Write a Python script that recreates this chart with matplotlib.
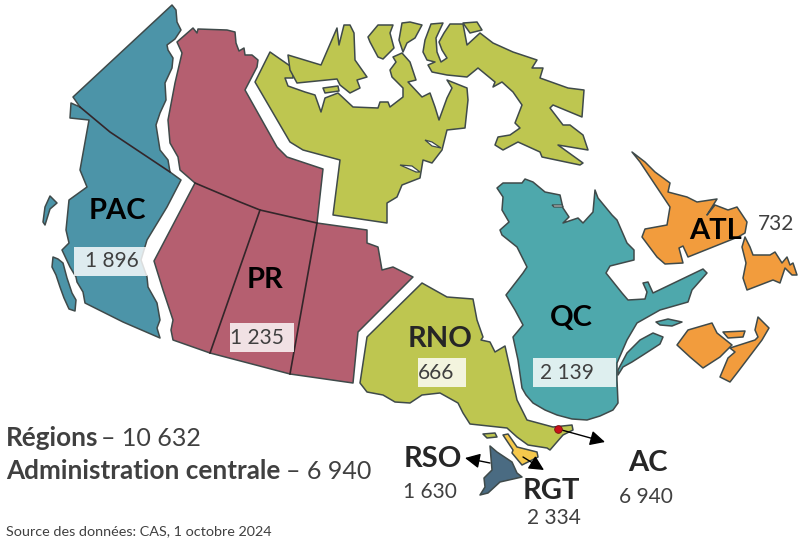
import matplotlib
matplotlib.use('Agg')
import matplotlib.pyplot as plt

plt.rcParams['font.family'] = ['Lato', 'DejaVu Sans']

# outlines (image pixels)
PAC_MAIN = [(172,5),(176,10),(177,22),(181,30),(175,39),(167,45),(168,50),(173,58),(172,68),(165,83),(166,100),(160,113),(156,125),(160,150),(168,160),(170,172),(181,180),(167,207),(147,240),(141,260),(147,277),(148,287),(157,303),(160,320),(157,328),(160,338),(123,322),(85,303),(83,292),(77,282),(76,277),(70,267),(62,250),(69,243),(66,230),(69,200),(87,187),(80,170),(89,120),(70,118),(71,103),(80,107),(73,97)]
PAC_HAIDA = [(50,196),(57,203),(50,209),(45,225),(43,222),(45,207)]
PAC_VAN = [(53,257),(58,259),(63,263),(67,278),(72,293),(76,300),(75,311),(69,309),(64,298),(60,287),(56,275),(52,267)]
PAC_LINES = [[(80,107),(110,132),(170,172)]]

PR_MAIN = [(193,28),(197,33),(198,29),(227,30),(235,32),(236,43),(239,51),(244,48),(245,55),(252,55),(258,60),(257,67),(245,90),(277,147),(287,157),(323,169),(317,223),(367,230),(367,243),(378,247),(382,270),(393,267),(413,277),(358,332),(353,383),(290,374),(210,353),(173,340),(171,330),(173,320),(163,290),(154,261),(195,183),(180,170),(178,157),(170,143),(168,120),(175,83),(182,53),(177,42)]
PR_LINES = [[(195,183),(240,202),(260,210),(317,223)],[(260,210),(210,353)],[(317,223),(290,374)]]

NU_MAIN = [(270,52),(293,68),(293,78),(285,78),(288,86),(305,92),(315,95),(321,112),(325,98),(338,93),(353,107),(378,108),(380,102),(388,102),(390,107),(403,97),(403,88),(392,77),(390,70),(396,62),(393,57),(402,53),(410,62),(416,80),(408,82),(422,97),(430,93),(435,107),(439,120),(447,98),(452,88),(447,80),(467,88),(468,100),(465,128),(447,130),(442,150),(432,163),(423,160),(420,178),(402,185),(397,197),(387,203),(387,223),(333,215),(340,160),(303,150),(290,142),(255,82)]
NU_VICTORIA = [(288,55),(321,65),(337,28),(339,45),(344,25),(350,25),(354,33),(355,60),(367,77),(357,80),(360,88),(350,93),(340,85),(337,79),(297,83),(290,70)]
NU_SMALL = [(323,88),(338,86),(339,91),(325,93)]
NU_ISLE1 = [(368,37),(378,25),(393,25),(390,33),(394,48),(383,59),(378,57),(370,42)]
NU_ISLE2 = [(402,23),(410,22),(422,25),(415,38),(407,43),(403,52),(399,40)]
NU_ISLE3 = [(463,23),(477,22),(482,30),(470,33)]
NU_BAFFIN = [(463,24),(450,24),(444,33),(439,42),(442,50),(447,58),(441,62),(437,52),(436,38),(443,23),(431,24),(425,40),(423,52),(427,60),(435,62),(428,65),(432,72),(447,75),(467,77),(478,68),(495,82),(493,87),(502,82),(513,92),(522,105),(515,123),(520,128),(510,135),(498,137),(495,145),(503,150),(518,142),(540,152),(542,157),(580,165),(583,163),(558,145),(588,150),(583,135),(570,125),(563,125),(550,108),(553,105),(582,117),(584,90),(568,88),(540,78),(543,68),(532,68),(537,60),(513,52),(493,43),(480,33),(467,45)]
SLITS = [[(400,165),(412,166),(420,172),(416,172)],[(425,140),(432,142),(441,148),(432,146)],[(552,205),(562,205),(563,207),(554,207)]]

QC_MAIN = [(497,188),(503,183),(522,183),(525,179),(533,182),(545,192),(560,195),(563,208),(569,217),(563,223),(578,218),(583,223),(593,212),(595,190),(598,198),(612,215),(617,220),(627,243),(634,250),(634,260),(610,266),(606,273),(622,293),(628,300),(645,299),(647,292),(643,283),(648,282),(653,293),(703,269),(707,273),(692,290),(688,302),(660,310),(637,323),(627,340),(617,363),(617,380),(618,403),(613,410),(600,416),(587,420),(572,419),(557,415),(545,410),(533,403),(526,395),(522,388),(518,360),(513,337),(523,325),(515,310),(506,295),(523,273),(527,267),(517,247),(502,235),(500,230),(509,222),(502,210),(503,197)]
QC_GASPE = [(618,370),(627,353),(640,340),(653,333),(663,337),(660,344),(643,355),(632,362),(623,367),(618,375)]
QC_ANTICOSTI = [(656,322),(668,319),(682,322),(672,326),(660,325)]

ATL_LAB = [(632,152),(645,162),(655,172),(670,183),(668,192),(687,197),(697,202),(717,199),(707,215),(715,205),(728,210),(737,207),(747,222),(745,233),(738,237),(688,257),(683,246),(679,248),(683,263),(665,264),(657,257),(642,237),(645,229),(667,225),(670,207),(660,192),(650,177),(640,162)]
ATL_NFLD = [(745,237),(750,247),(753,255),(770,255),(775,252),(782,263),(787,257),(790,265),(793,263),(797,275),(792,275),(785,268),(780,283),(773,280),(747,290),(743,278),(746,263),(742,247)]
ATL_NB = [(677,345),(688,330),(712,323),(717,333),(732,345),(720,357),(703,368),(690,357)]
ATL_PEI = [(723,332),(745,331),(743,337),(728,338)]
ATL_NS = [(758,317),(769,328),(762,340),(737,373),(730,382),(720,377),(728,358),(735,352),(730,348),(755,340),(758,337),(755,330)]

RNO_MAIN = [(422,283),(447,297),(473,299),(477,320),(483,337),(481,340),(490,342),(495,352),(505,346),(517,400),(527,420),(553,427),(572,425),(573,430),(563,435),(550,450),(547,448),(528,445),(517,437),(507,428),(470,424),(463,413),(458,403),(440,393),(422,395),(410,403),(395,402),(383,395),(367,392),(360,383),(367,337)]
RNO_ISLE = [(483,434),(495,433),(497,437),(487,438)]

RGT_MAIN = [(503,435),(508,434),(517,447),(537,452),(538,457),(522,465),(512,453),(513,450)]
RSO_MAIN = [(490,446),(497,452),(512,462),(517,473),(522,477),(500,482),(488,493),(480,495),(485,487),(484,478),(492,470)]

PAC_COLOR = '#4C94A8'
PR_COLOR = '#B55F70'
OLIVE = '#BEC650'
QC_COLOR = '#4EA8AC'
ATL_COLOR = '#F29C3D'
RGT_COLOR = '#F5C84C'
RSO_COLOR = '#4A6B82'
EDGE = '#3F4A4A'
TEXT = '#404040'

shapes = [
    (PAC_MAIN, PAC_COLOR), (PAC_HAIDA, PAC_COLOR), (PAC_VAN, PAC_COLOR),
    (PR_MAIN, PR_COLOR),
    (NU_MAIN, OLIVE), (NU_VICTORIA, OLIVE), (NU_SMALL, OLIVE), (NU_ISLE1, OLIVE),
    (NU_ISLE2, OLIVE), (NU_ISLE3, OLIVE), (NU_BAFFIN, OLIVE),
    (QC_MAIN, QC_COLOR), (QC_GASPE, QC_COLOR), (QC_ANTICOSTI, QC_COLOR),
    (ATL_LAB, ATL_COLOR), (ATL_NFLD, ATL_COLOR), (ATL_NB, ATL_COLOR), (ATL_PEI, ATL_COLOR), (ATL_NS, ATL_COLOR),
    (RNO_MAIN, OLIVE), (RNO_ISLE, OLIVE),
    (RGT_MAIN, RGT_COLOR), (RSO_MAIN, RSO_COLOR),
]

# region, x, y
bold_labels = [('PAC', 117, 211), ('PR', 265, 280), ('RNO', 440, 339), ('QC', 571, 318),
               ('ATL', 716, 231), ('RSO', 433, 459), ('RGT', 551, 491), ('AC', 648, 463)]
# value, x, y
value_labels = [('1 896', 112, 261), ('1 235', 257, 338), ('666', 436, 373), ('2 139', 567, 373),
                ('732', 776, 224), ('1 630', 430, 492), ('2 334', 554, 518), ('6 940', 646, 497)]
# x, y, w, h of the pale boxes behind values
value_boxes = [(74, 247, 73, 29), (230, 323, 64, 29), (418, 358, 48, 29), (533, 358, 83, 29)]

# start, tip of the arrows to the small regions
arrows = [((490, 463), (465, 458)), ((523, 457), (544, 470)), ((558, 429), (605, 442))]

fig = plt.figure(figsize=(8.10, 5.46), dpi=100)
ax = fig.add_axes([0, 0, 1, 1])
ax.set_xlim(0, 810)
ax.set_ylim(546, 0)
ax.axis('off')

for pts, col in shapes:
    xs, ys = zip(*pts)
    ax.fill(xs, ys, facecolor=col, edgecolor=EDGE, linewidth=1.1, joinstyle='round')

for slit in SLITS:
    xs, ys = zip(*slit)
    ax.fill(xs, ys, facecolor='white', edgecolor=EDGE, linewidth=0.9)

for line in PAC_LINES + PR_LINES:
    xs, ys = zip(*line)
    ax.plot(xs, ys, color='#33262A', linewidth=1.2)

for x, y, w, h in value_boxes:
    ax.add_patch(plt.Rectangle((x, y), w, h, facecolor='white', edgecolor='none', alpha=0.82, zorder=4))

for start, tip in arrows:
    ax.annotate('', xy=tip, xytext=start, zorder=5,
                arrowprops=dict(arrowstyle='-|>,head_length=0.9,head_width=0.45', color='black',
                                edgecolor='#555555', facecolor='black', lw=1, shrinkA=0, shrinkB=0))

ax.plot([558], [429], 'o', color='#C8101A', markersize=5.5, markeredgecolor='#7A1010', markeredgewidth=0.6, zorder=6)

for txt, x, y in bold_labels:
    col = 'black' if txt in ('PAC', 'PR', 'QC', 'ATL') else '#262626'
    ax.text(x, y, txt, fontsize=21, fontweight='bold', color=col, ha='center', va='center', zorder=7)

for txt, x, y in value_labels:
    ax.text(x, y, txt, fontsize=15, color=TEXT, ha='center', va='center', zorder=7)

ax.text(6, 446, 'Régions', fontsize=18.8, fontweight='bold', color=TEXT, va='baseline')
ax.text(101, 446, '– 10 632', fontsize=18, color=TEXT, va='baseline')
ax.text(6, 479, 'Administration centrale', fontsize=18.8, fontweight='bold', color=TEXT, va='baseline')
ax.text(286, 479, '– 6 940', fontsize=18, color=TEXT, va='baseline')
ax.text(6, 535, 'Source des données: CAS, 1 octobre 2024', fontsize=10.4, color=TEXT, va='baseline')

fig.savefig('out.png', dpi=100)
